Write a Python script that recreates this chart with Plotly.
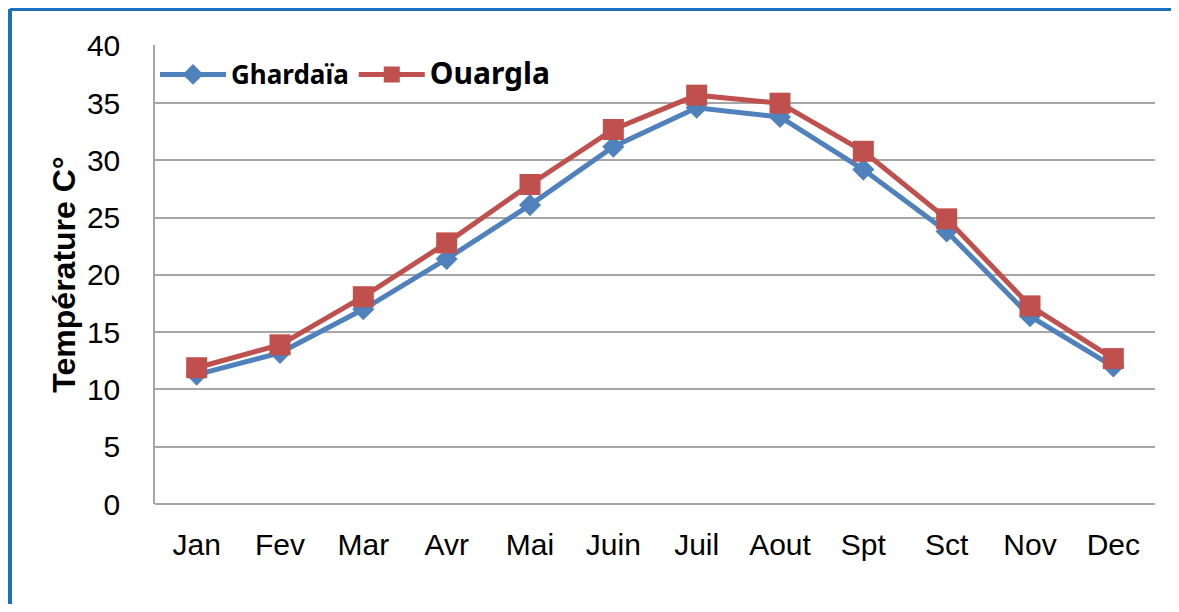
import plotly.graph_objects as go

months = ["Jan", "Fev", "Mar", "Avr", "Mai", "Juin", "Juil", "Aout", "Spt", "Sct", "Nov", "Dec"]
ghardaia = [11.3, 13.2, 17.0, 21.4, 26.1, 31.2, 34.6, 33.8, 29.2, 23.8, 16.4, 12.0]
ouargla = [11.9, 13.9, 18.1, 22.8, 27.9, 32.7, 35.7, 35.0, 30.8, 24.9, 17.3, 12.7]
y_ticks = [0, 5, 10, 15, 20, 25, 30, 35, 40]

fig = go.Figure()
fig.add_trace(go.Scatter(
    x=months, y=ghardaia, mode="lines+markers",
    name="<span style='font-size:26px'>Ghardaïa</span>",
    line=dict(color="#4F81BD", width=5),
    marker=dict(symbol="diamond", size=17, color="#4F81BD"),
))
fig.add_trace(go.Scatter(
    x=months, y=ouargla, mode="lines+markers",
    name="<span style='font-size:30px'>Ouargla</span>",
    line=dict(color="#C0504D", width=5),
    marker=dict(symbol="square", size=21, color="#C0504D"),
))

fig.update_layout(
    width=1163, height=596,
    margin=dict(l=147, r=16, t=37, b=100),
    paper_bgcolor="white", plot_bgcolor="white",
    font=dict(family="Liberation Sans, Arial, sans-serif", color="black"),
    showlegend=True,
    legend=dict(
        orientation="h", x=0.0, xanchor="left", y=0.935, yanchor="middle",
        bgcolor="white", borderwidth=0, itemwidth=66,
        font=dict(family="Noto Sans, sans-serif", size=24, color="black", weight="bold"),
        traceorder="normal", itemclick=False,
    ),
    xaxis=dict(
        type="category", range=[-0.5, 11.5], showgrid=False, zeroline=False,
        showline=False, ticks="outside", ticklen=14, tickcolor="rgba(0,0,0,0)",
        tickfont=dict(size=30, color="black"),
    ),
    yaxis=dict(
        range=[0, 40.08], tickvals=y_ticks, showgrid=True, gridcolor="#A6A6A6",
        gridwidth=1.5, zeroline=True, zerolinecolor="#A6A6A6", zerolinewidth=1.5,
        showline=True, linecolor="#A6A6A6",
        linewidth=1.5, ticks="outside", ticklen=27, tickcolor="rgba(0,0,0,0)",
        tickfont=dict(size=30, color="black"),
        title=dict(text="<b>Température C°</b>", font=dict(size=32, color="black"), standoff=2),
    ),
)

# blue frame border (top and left) as in the reference
fig.add_shape(type="line", xref="paper", yref="paper",
              x0=-0.145, x1=1.03, y0=1.0786, y1=1.0786,
              line=dict(color="#1E6FBF", width=4))
fig.add_shape(type="line", xref="paper", yref="paper",
              x0=-0.145, x1=-0.145, y0=1.0786, y1=-0.24,
              line=dict(color="#1E6FBF", width=4))

fig.write_html("out.html")
